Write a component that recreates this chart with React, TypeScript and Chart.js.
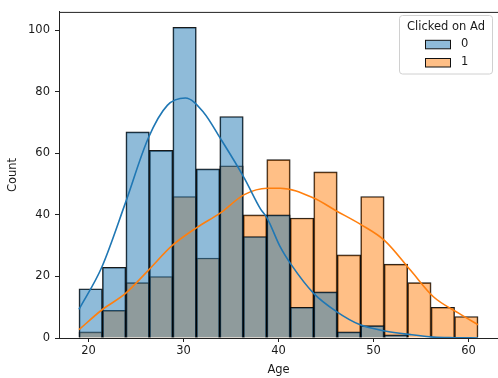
import React, { useEffect, useRef } from "react";
import { Chart, registerables } from "chart.js";

Chart.register(...registerables);

// Histogram bin edges (Age)
const binEdges = [19, 21.47, 23.94, 26.41, 28.88, 31.35, 33.82, 36.29, 38.76, 41.24, 43.71, 46.18, 48.65, 51.12, 53.59, 56.06, 58.53, 61];
// Counts per bin
const counts0 = [16, 23, 67, 61, 101, 55, 72, 33, 40, 10, 15, 2, 4, 1, 0, 0, 0];
const counts1 = [2, 9, 18, 20, 46, 26, 56, 40, 58, 39, 54, 27, 46, 24, 18, 10, 7];

// KDE curves (scaled to counts)
const kde0X = [19, 21.4, 23.9, 26.3, 28.3, 30.2, 32.1, 33.9, 36.4, 38.1, 38.8, 40.2, 41.3, 43.7, 46.1, 48.6, 51.2, 53.9, 56.3, 58.5, 61];
const kde0Y = [9.3, 23, 44, 65, 75.6, 78, 73.4, 64.8, 52, 42, 39, 29.5, 24, 14.5, 8.6, 4.3, 2.3, 1.1, 0.3, 0.1, 0];
const kde1X = [19, 21.4, 23.9, 26.3, 28.8, 31.4, 33.9, 36.4, 38.8, 40.2, 43.7, 46.1, 48.6, 51.2, 53.9, 56.3, 59, 61];
const kde1Y = [2.7, 9.1, 14.5, 22, 30, 35.9, 40.7, 46.6, 48.7, 48.7, 45.5, 41.3, 37, 31.6, 22, 13.4, 8, 4.3];

const xTicks = [20, 30, 40, 50, 60];
const yTicks = [0, 20, 40, 60, 80, 100];
const hueLabels = ["0", "1"];
const legendTitle = "Clicked on Ad";
const xTitle = "Age";
const yTitle = "Count";

const BLUE = "#1f77b4";
const ORANGE = "#ff7f0e";
const BLUE_FILL = "rgba(31,119,180,0.5)";
const ORANGE_FILL = "rgba(255,127,14,0.5)";
const FONT = "'DejaVu Sans', sans-serif";
const FS = 11.5;
const TXT = "#1a1a1a";

export default function App() {
  const ref = useRef<HTMLCanvasElement | null>(null);

  useEffect(() => {
    const canvas = ref.current;
    if (!canvas) return;
    const centers = binEdges.slice(0, -1).map((e, i) => (e + binEdges[i + 1]) / 2);

    const legendPlugin = {
      id: "mplLegend",
      afterDraw(chart: any) {
        const ctx = chart.ctx;
        ctx.save();
        // top spine
        ctx.strokeStyle = "#222";
        ctx.lineWidth = 1;
        ctx.beginPath();
        ctx.moveTo(chart.chartArea.left, chart.chartArea.top + 0.5);
        ctx.lineTo(chart.chartArea.right, chart.chartArea.top + 0.5);
        ctx.stroke();

        const bx = 399.5, by = 15.5, bw = 93, bh = 58.5, r = 3;
        ctx.beginPath();
        ctx.moveTo(bx + r, by);
        ctx.lineTo(bx + bw - r, by);
        ctx.quadraticCurveTo(bx + bw, by, bx + bw, by + r);
        ctx.lineTo(bx + bw, by + bh - r);
        ctx.quadraticCurveTo(bx + bw, by + bh, bx + bw - r, by + bh);
        ctx.lineTo(bx + r, by + bh);
        ctx.quadraticCurveTo(bx, by + bh, bx, by + bh - r);
        ctx.lineTo(bx, by + r);
        ctx.quadraticCurveTo(bx, by, bx + r, by);
        ctx.closePath();
        ctx.fillStyle = "rgba(255,255,255,0.8)";
        ctx.fill();
        ctx.strokeStyle = "#d0d0d0";
        ctx.lineWidth = 1;
        ctx.stroke();

        ctx.font = `${FS}px ${FONT}`;
        ctx.fillStyle = TXT;
        ctx.textAlign = "center";
        ctx.textBaseline = "middle";
        ctx.fillText(legendTitle, bx + bw / 2, 27);

        const fills = [BLUE_FILL, ORANGE_FILL];
        const rows = [44.3, 62.5];
        hueLabels.forEach((lab, i) => {
          const py = rows[i];
          ctx.fillStyle = "#fff";
          ctx.fillRect(425.5, py - 4, 25, 8.5);
          ctx.fillStyle = fills[i];
          ctx.fillRect(425.5, py - 4, 25, 8.5);
          ctx.strokeStyle = "#111";
          ctx.lineWidth = 1;
          ctx.strokeRect(425.5, py - 4, 25, 8.5);
          ctx.fillStyle = TXT;
          ctx.textAlign = "left";
          ctx.fillText(lab, 461, py);
        });
        ctx.restore();
      },
    };

    const chart = new Chart(canvas, {
      type: "bar",
      data: {
        datasets: [
          {
            type: "line",
            label: "kde0",
            data: kde0X.map((x, i) => ({ x, y: kde0Y[i] })),
            borderColor: BLUE,
            borderWidth: 1.6,
            pointRadius: 0,
            fill: false,
            cubicInterpolationMode: "monotone",
            order: 0,
          } as any,
          {
            type: "line",
            label: "kde1",
            data: kde1X.map((x, i) => ({ x, y: kde1Y[i] })),
            borderColor: ORANGE,
            borderWidth: 1.6,
            pointRadius: 0,
            fill: false,
            cubicInterpolationMode: "monotone",
            order: 0,
          } as any,
          {
            label: hueLabels[0],
            data: centers.map((x, i) => ({ x, y: counts0[i] })),
            backgroundColor: BLUE_FILL,
            borderColor: "rgba(0,0,0,0.9)",
            borderWidth: 1,
            grouped: false,
            barPercentage: 1,
            categoryPercentage: 1,
            order: 1,
          } as any,
          {
            label: hueLabels[1],
            data: centers.map((x, i) => ({ x, y: counts1[i] })),
            backgroundColor: ORANGE_FILL,
            borderColor: "rgba(0,0,0,0.9)",
            borderWidth: 1,
            grouped: false,
            barPercentage: 1,
            categoryPercentage: 1,
            order: 2,
          } as any,
        ],
      },
      options: {
        responsive: false,
        animation: false,
        layout: { padding: { top: 9, right: 0, left: 0, bottom: 0 } },
        plugins: { legend: { display: false }, tooltip: { enabled: false } },
        scales: {
          x: {
            type: "linear",
            min: 16.9,
            max: 63.1,
            offset: false,
            grid: { offset: false, drawOnChartArea: false, drawTicks: true, tickLength: 4, tickColor: "#222", lineWidth: 1 },
            border: { display: true, color: "#222", width: 1 },
            ticks: { font: { family: FONT, size: FS }, color: TXT, padding: 2, maxRotation: 0 },
            title: { display: true, text: xTitle, font: { family: FONT, size: FS }, color: TXT, padding: { top: 0, bottom: 1 } },
            afterBuildTicks: (s: any) => { s.ticks = xTicks.map((v) => ({ value: v })); },
            afterFit: (s: any) => { s.height = 40; },
          },
          y: {
            type: "linear",
            min: 0,
            max: 106,
            grid: { drawOnChartArea: false, drawTicks: true, tickLength: 4, tickColor: "#222", lineWidth: 1 },
            border: { display: true, color: "#222", width: 1 },
            ticks: { font: { family: FONT, size: FS }, color: TXT, padding: 5 },
            title: { display: true, text: yTitle, font: { family: FONT, size: FS }, color: TXT, padding: { top: 6, bottom: 0 } },
            afterBuildTicks: (s: any) => { s.ticks = yTicks.map((v) => ({ value: v })); },
            afterFit: (s: any) => { s.width = 59; },
          },
        },
      } as any,
      plugins: [legendPlugin],
    });
    return () => chart.destroy();
  }, []);

  return (
    <div style={{ position: "absolute", left: 0, top: 0, width: 498, height: 378, background: "#fff" }}>
      <canvas ref={ref} width={498} height={378} style={{ display: "block", width: 498, height: 378 }} />
    </div>
  );
}
